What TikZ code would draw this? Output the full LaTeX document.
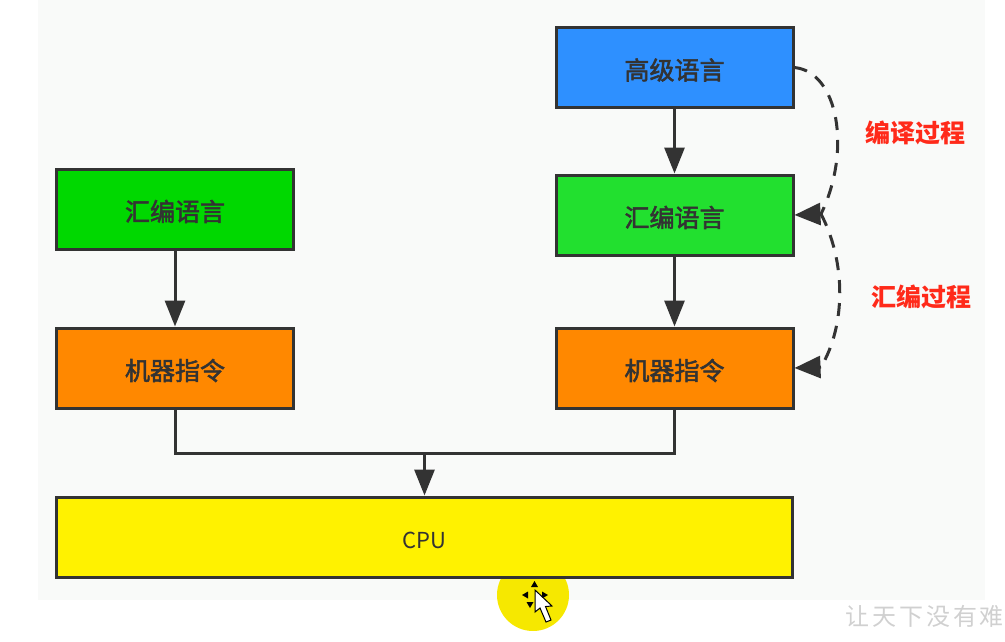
\documentclass[tikz,border=0pt]{standalone}
\usepackage{fontspec}
\setmainfont{Noto Sans CJK SC}
\usetikzlibrary{arrows.meta}
\definecolor{line}{HTML}{333333}
\definecolor{page}{HTML}{F9FAF9}
\definecolor{highblue}{HTML}{2E90FF}
\definecolor{asmleft}{HTML}{00D800}
\definecolor{asmright}{HTML}{22E02F}
\definecolor{machine}{HTML}{FF8800}
\definecolor{cpuyellow}{HTML}{FFF200}
\definecolor{spot}{HTML}{F6E800}
\definecolor{note}{HTML}{FF2A1A}
\definecolor{mark}{HTML}{D0D0D0}
\newfontfamily\boxfont[FakeBold=2.2]{Noto Sans CJK SC}
\begin{document}
\begin{tikzpicture}
  [x=1pt,y=-1pt,every node/.style={font=\fontsize{25}{30}\selectfont\boxfont,text=line}]
  \tikzstyle{box} = [draw=line,line width=3pt,minimum width=237pt,minimum height=80pt,inner sep=0pt,text height=24pt,text depth=0pt]
  \tikzstyle{link} = [draw=line,line width=3pt]
  \tikzstyle{flow} = [link,-{Triangle[length=26pt,width=20pt]}]
  \tikzstyle{curve} = [link,dash pattern=on 13pt off 10pt]
  \tikzstyle{head} = [link,-{Triangle[length=26pt,width=22pt]}]
  \tikzstyle{rednote} = [text=note,font=\fontsize{25}{30}\selectfont\bfseries]
  \useasboundingbox (0,0) rectangle (1005,641);
  \fill[page] (38,0) rectangle (985,600);

  % pointer spot, the cpu box covers its top
  \fill[spot] (533,595) circle (36pt);

  \node[box,fill=highblue] (high) at (674.5,67.5) {高级语言};
  \node[box,fill=asmright] (asmr) at (674.5,215) {汇编语言};
  \node[box,fill=machine] (macr) at (674.5,368) {机器指令};
  \node[box,fill=asmleft] (asml) at (175,209) {汇编语言};
  \node[box,fill=machine] (macl) at (175,368) {机器指令};
  \node[box,fill=cpuyellow,minimum width=736pt,text height=22pt,font=\fontsize{22}{26}\selectfont\normalfont] (cpu) at (424.5,537) {CPU};

  \node[rednote] (compile) at (915,133) {编译过程};
  \node[rednote] (assemble) at (921,297) {汇编过程};

  \coordinate (merge) at (424.5,453);
  \coordinate (endc) at (821,214);
  \coordinate (enda) at (821,367);

  \foreach \from/\to in {high/asmr,asmr/macr,asml/macl,merge/cpu}
    \draw[flow] (\from) -- (\to);
  \draw[link] (macl.south) |- (merge) -| (macr.south);

  \draw[curve] (high.east) .. controls (838,72) and (852,150) .. (endc);
  \draw[curve] (endc) .. controls (846,262) and (846,325) .. (enda);
  \draw[head] (endc) -- (asmr.east);
  \draw[head] (enda) -- (macr.east);

  % pointer
  \fill[black] (534.5,581) -- (531,587) -- (538,587) -- cycle;
  \fill[black] (522,595) -- (528,591.5) -- (528,598.5) -- cycle;
  \fill[black] (548,595) -- (542,591.5) -- (542,598.5) -- cycle;
  \fill[black] (530,608) -- (526.5,602) -- (533.5,602) -- cycle;
  \draw[black,fill=white,line width=1pt] (535,590) -- (535,612) -- (540,608) -- (546,622) -- (551,620) -- (545.5,606.5) -- (552,606) -- cycle;

  \node[anchor=west,text=mark,font=\fontsize{24}{28}\selectfont\normalfont\addfontfeature{LetterSpace=12}] (slogan) at (842,616) {让天下没有难};
\end{tikzpicture}
\end{document}
